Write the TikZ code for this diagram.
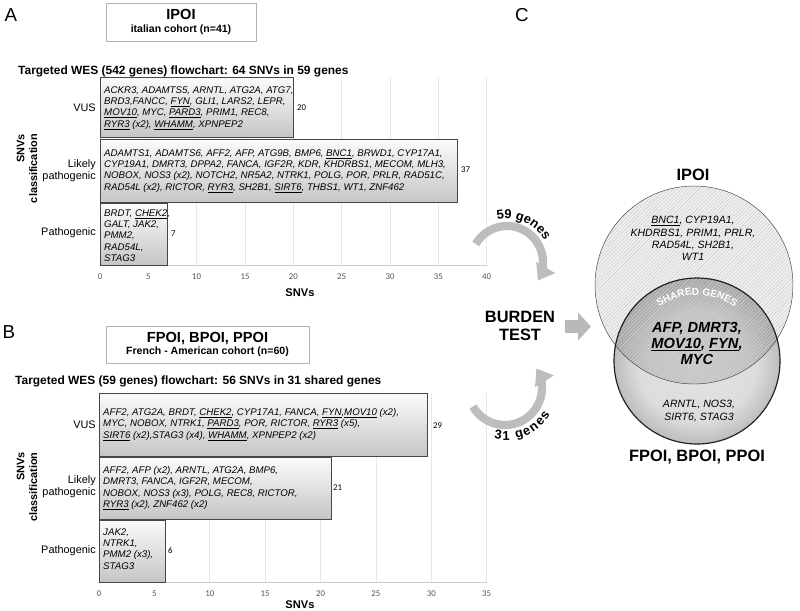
\documentclass[tikz,border=0pt]{standalone}
\usepackage{fontspec}
\setmainfont{Liberation Sans}
\newfontfamily\calib{Carlito}
\usepackage{xcolor}
\usepackage{tikz}
\usetikzlibrary{arrows.meta,calc,decorations.text,patterns.meta}
\colorlet{barline}{gray!55!black}
\colorlet{gridgray}{gray!18}
\colorlet{loopgray}{gray!52}
\pgfdeclareradialshading{lowerball}{\pgfpointorigin}{color(0bp)=(gray!22); color(18bp)=(gray!27); color(25bp)=(gray!52); color(50bp)=(gray!52)}
\pgfdeclareradialshading{sharedball}{\pgfpointorigin}{color(0bp)=(gray!44); color(15bp)=(gray!49); color(25bp)=(gray!72); color(50bp)=(gray!72)}
\newcommand{\genefont}{\fontsize{8.25}{9.6}\selectfont\itshape}

\begin{document}
\begin{tikzpicture}[x=0.03cm, y=-0.03cm,
    bar/.style={draw=barline, line width=0.5pt, top color=gray!3, bottom color=gray!45},
    genes/.style={anchor=north west, inner sep=0pt, align=left, font=\genefont},
    cat/.style={anchor=east, inner sep=0pt, align=right, font=\fontsize{9.3}{10.2}\selectfont},
    val/.style={anchor=west, inner sep=0pt, font=\calib\fontsize{7.5}{8}\selectfont},
    tick/.style={inner sep=0pt, text=gray!65!black, font=\calib\fontsize{7.5}{8}\selectfont},
    gridline/.style={draw=gridgray, line width=0.6pt},
    axisline/.style={draw=gray!40, line width=0.6pt},
    cohort/.style={draw=gray!60, line width=0.8pt, align=center, font=\bfseries\fontsize{9}{10.6}\selectfont},
    paneltag/.style={font=\fontsize{16}{18}\selectfont},
    charttitle/.style={anchor=west, inner sep=0pt, font=\bfseries\fontsize{10.2}{12}\selectfont},
    ytitle/.style={rotate=90, align=right, inner sep=0pt, font=\bfseries\fontsize{9.3}{11}\selectfont},
    xtitle/.style={inner sep=0pt, font=\bfseries\fontsize{9.5}{11}\selectfont},
    bigbold/.style={align=center, font=\bfseries\fontsize{14}{15.3}\selectfont},
    vennsmall/.style={align=center, inner sep=0pt, font=\itshape\fontsize{9}{10.5}\selectfont},
    vennbig/.style={align=center, inner sep=0pt, font=\bfseries\itshape\fontsize{12.5}{14}\selectfont},
    curvearrow/.style={draw=loopgray, line width=7pt, -{Triangle[length=13pt, width=18pt]}},
    blockarrow/.style={draw=gray!55, line width=11pt, -{Triangle[length=11pt, width=23pt]}}
]
\useasboundingbox (0,0) rectangle (800,611);
\fill[white] (0,0) rectangle (800,611);

% Panel A
\node[paneltag] (tagA) at (11,15) {A};
\node[cohort, minimum width=4.5cm, minimum height=1.14cm] (boxA) at (181,22)
  {{\fontsize{12.5}{14}\selectfont IPOI}\\italian cohort (n=41)};
\node[charttitle] (titleA) at (18,71) {Targeted WES (542 genes) flowchart: 64 SNVs in 59 genes};

\foreach \v in {0,5,...,40} {
  \draw[gridline] ({100+9.667*\v},77) -- ({100+9.667*\v},265);
  \node[tick] (tickA\v) at ({100+9.667*\v},277) {\v};
}
\draw[axisline] (100,265) -- (487,265);
\draw[axisline] (100,77) -- (100,265);

\draw[bar] (100,77) rectangle ({100+9.667*20},137);
\draw[bar] (100,139) rectangle ({100+9.667*37},202.5);
\draw[bar] (100,203.5) rectangle ({100+9.667*7},265);

\node[genes] (vusA) at (104,86.5) {ACKR3, ADAMTS5, ARNTL, ATG2A, ATG7,\\
  BRD3,FANCC, \underline{FYN}, GLI1, LARS2, LEPR,\\
  \underline{MOV10}, MYC, \underline{PARD3}, PRIM1, REC8,\\
  \underline{RYR3} (x2), \underline{WHAMM}, XPNPEP2};
\node[genes] (lpA) at (104,149.5) {ADAMTS1, ADAMTS6, AFF2, AFP, ATG9B, BMP6, \underline{BNC1}, BRWD1, CYP17A1,\\
  CYP19A1, DMRT3, DPPA2, FANCA, IGF2R, KDR, KHDRBS1, MECOM, MLH3,\\
  NOBOX, NOS3 (x2), NOTCH2, NR5A2, NTRK1, POLG, POR, PRLR, RAD51C,\\
  RAD54L (x2), RICTOR, \underline{RYR3}, SH2B1, \underline{SIRT6}, THBS1, WT1, ZNF462};
\node[genes] (pA) at (104,209.5) {BRDT, \underline{CHEK2},\\GALT, JAK2,\\PMM2,\\RAD54L,\\STAG3};

\node[val] (nvusA) at (297,108) {20};
\node[val] (nlpA) at (461,170) {37};
\node[val] (npA) at (171,234) {7};

\node[cat] (catvusA) at (96,108) {VUS};
\node[cat] (catlpA) at (96,171) {Likely\\pathogenic};
\node[cat] (catpA) at (96,233) {Pathogenic};
\node[ytitle] (ytA) at (27,168.5) {SNVs\\classification};
\node[xtitle] (xtA) at (300,293) {SNVs};

% Panel B
\node[paneltag] (tagB) at (9,332) {B};
\node[cohort, minimum width=6.09cm, minimum height=1.11cm] (boxB) at (207.5,344.5)
  {{\fontsize{12.5}{14}\selectfont FPOI, BPOI, PPOI}\\French - American cohort (n=60)};
\node[charttitle] (titleB) at (15,381) {Targeted WES (59 genes) flowchart: 56 SNVs in 31 shared genes};

\foreach \v in {0,5,...,35} {
  \draw[gridline] ({99+11.077*\v},393) -- ({99+11.077*\v},582);
  \node[tick] (tickB\v) at ({99+11.077*\v},594) {\v};
}
\draw[axisline] (99,582) -- (487,582);
\draw[axisline] (99,393) -- (99,582);

\draw[bar] (99,393) rectangle ({99+11.077*29.65},456);
\draw[bar] (99,457) rectangle ({99+11.077*21},519);
\draw[bar] (99,520) rectangle ({99+11.077*6},582);

\node[genes] (vusB) at (103,408.5) {AFF2, ATG2A, BRDT, \underline{CHEK2}, CYP17A1, FANCA, \underline{FYN},\underline{MOV10} (x2),\\
  MYC, NOBOX, NTRK1, \underline{PARD3}, POR, RICTOR, \underline{RYR3} (x5),\\
  \underline{SIRT6} (x2),STAG3 (x4), \underline{WHAMM}, XPNPEP2 (x2)};
\node[genes] (lpB) at (103,466.5) {AFF2, AFP (x2), ARNTL, ATG2A, BMP6,\\
  DMRT3, FANCA, IGF2R, MECOM,\\
  NOBOX, NOS3 (x3), POLG, REC8, RICTOR,\\
  \underline{RYR3} (x2), ZNF462 (x2)};
\node[genes] (pB) at (103,528.5) {JAK2,\\NTRK1,\\PMM2 (x3),\\STAG3};

\node[val] (nvusB) at (433,426) {29};
\node[val] (nlpB) at (333,488) {21};
\node[val] (npB) at (168,551) {6};

\node[cat] (catvusB) at (96,425) {VUS};
\node[cat] (catlpB) at (96,487) {Likely\\pathogenic};
\node[cat] (catpB) at (96,551) {Pathogenic};
\node[ytitle] (ytB) at (27,487) {SNVs\\classification};
\node[xtitle] (xtB) at (300,605) {SNVs};

% Panel C
\node[paneltag] (tagC) at (522,15) {C};

% gene counts
\coordinate (c59) at (507,262);
\draw[curvearrow] ($(c59)+(210:36)$) arc[start angle=210, end angle=391, radius=36];
\path[decorate, decoration={text along path, text align=left,
  text={|\bfseries\fontsize{11}{13}\selectfont|59 genes}}]
  ($(c59)+(257:43)$) arc[start angle=257, end angle=345, radius=43];

\coordinate (c31) at (505,388);
\draw[curvearrow] ($(c31)+(150:37)$) arc[start angle=150, end angle=-32, radius=37];
\path[decorate, decoration={text along path, text align={fit to path},
  text={|\bfseries\fontsize{11}{13}\selectfont|31 genes}}]
  ($(c31)+(102:52)$) arc[start angle=102, end angle=30, radius=52];

\node[bigbold] (burden) at (520,326) {BURDEN\\TEST};
\coordinate (btail) at (565,326.5);
\coordinate (bhead) at (591,326.5);
\draw[blockarrow] (btail) -- (bhead);

% Venn
\coordinate (ipoi) at (694,285);
\coordinate (fpoi) at (697,361);
\fill[gray!12] (ipoi) circle[radius=99];
\fill[pattern={Lines[angle=45, distance=2.2pt, line width=0.35pt]}, pattern color=gray!45] (ipoi) circle[radius=99];
\shade[shading=lowerball] (fpoi) circle[radius=83];
\begin{scope}
  \clip (ipoi) circle[radius=99];
  \shade[shading=sharedball] (fpoi) circle[radius=83];
  \fill[pattern={Lines[angle=45, distance=2.2pt, line width=0.35pt]}, pattern color=gray!30] (fpoi) circle[radius=83];
\end{scope}
\draw[gray!55!black, line width=0.4pt] (ipoi) circle[radius=99];
\draw[gray!25!black, line width=1pt] (fpoi) circle[radius=83];

\path[decorate, decoration={text along path, text align=center,
  text={|\color{white}\bfseries\fontsize{8.6}{10}\selectfont|SHARED GENES}}]
  ($(fpoi)+(225:66)$) arc[start angle=225, end angle=315, radius=66];

\node[bigbold] (ipoititle) at (693,175) {IPOI};
\node[vennsmall] (ipoionly) at (693,238.5) {\underline{BNC1}, CYP19A1,\\KHDRBS1, PRIM1, PRLR,\\RAD54L, SH2B1,\\WT1};
\node[vennbig] (shared) at (697,343.5) {AFP, DMRT3,\\\underline{MOV10}, \underline{FYN},\\MYC};
\node[vennsmall] (fpoionly) at (699,411) {ARNTL, NOS3,\\SIRT6, STAG3};
\node[bigbold] (fpoititle) at (697,457) {FPOI, BPOI, PPOI};

\end{tikzpicture}
\end{document}
